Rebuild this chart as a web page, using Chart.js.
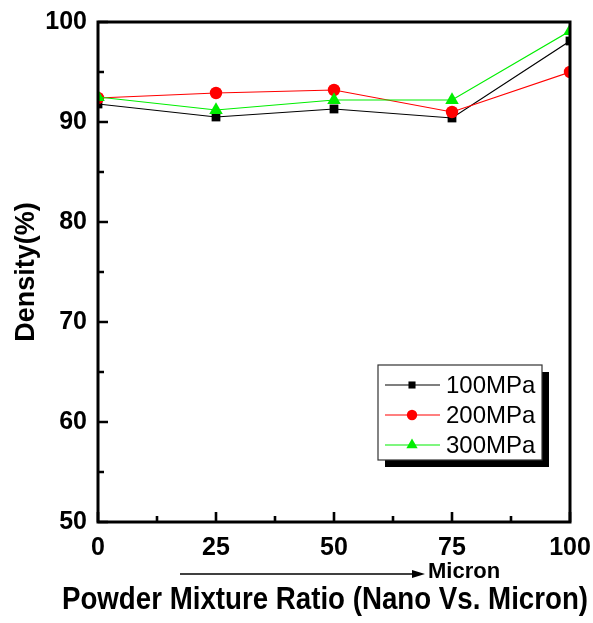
<!DOCTYPE html>
<html>
<head>
<meta charset="utf-8">
<script src="https://cdn.jsdelivr.net/npm/chart.js@4/dist/chart.umd.min.js"></script>
<style>
  html, body { margin: 0; padding: 0; background: #fff; }
  #wrap { width: 593px; height: 623px; }
</style>
</head>
<body>
<div id="wrap"><canvas id="c" width="593" height="623"></canvas></div>
<script>
// Mixture ratio (micron share, %) and sintered density for each compaction pressure
const ratios = [0, 25, 50, 75, 100];
const density100 = [91.8, 90.5, 91.3, 90.4, 98.1];
const density200 = [92.4, 92.9, 93.2, 91.0, 95.0];
const density300 = [92.5, 91.2, 92.2, 92.2, 99.1];
const seriesNames = ['100MPa', '200MPa', '300MPa'];

const xTicks = [0, 25, 50, 75, 100];
const yTicks = [50, 60, 70, 80, 90, 100];
const xMinorTicks = [12.5, 37.5, 62.5, 87.5];
const yMinorTicks = [55, 65, 75, 85, 95];

const xTitle = 'Powder Mixture Ratio (Nano Vs. Micron)';
const yTitle = 'Density(%)';
const arrowLabel = 'Micron';

const FONT = '"Liberation Sans", Arial, Helvetica, sans-serif';

const styles = [
  { color: '#000000', pointStyle: 'rect', radius: 6.2, legendRadius: 5 },
  { color: '#ff0000', pointStyle: 'circle', radius: 6.2, legendRadius: 5.2 },
  { color: '#00ee00', pointStyle: 'triangle', radius: 7.8, legendRadius: 6.5 }
];

const seriesValues = [density100, density200, density300];

const datasets = seriesValues.map((vals, i) => ({
  label: seriesNames[i],
  data: ratios.map((r, k) => ({ x: r, y: vals[k] })),
  borderColor: styles[i].color,
  backgroundColor: styles[i].color,
  pointBackgroundColor: styles[i].color,
  pointBorderColor: styles[i].color,
  pointStyle: styles[i].pointStyle,
  pointRadius: styles[i].radius,
  pointBorderWidth: 0,
  borderWidth: 1.2,
  tension: 0,
  clip: 0,
  order: 3 - i
}));

// Frame, inward tick marks, x title with arrow annotation and the boxed legend
const decorations = {
  id: 'decorations',
  afterDatasetsDraw(chart) {
    const { ctx, chartArea: a, scales } = chart;
    const xs = scales.x, ys = scales.y;
    ctx.save();
    ctx.strokeStyle = '#000';
    ctx.lineWidth = 2.6;
    ctx.lineCap = 'butt';
    ctx.beginPath();
    xTicks.forEach(v => { const px = xs.getPixelForValue(v); ctx.moveTo(px, a.bottom); ctx.lineTo(px, a.bottom - 10); });
    xMinorTicks.forEach(v => { const px = xs.getPixelForValue(v); ctx.moveTo(px, a.bottom); ctx.lineTo(px, a.bottom - 6); });
    yTicks.forEach(v => { const py = ys.getPixelForValue(v); ctx.moveTo(a.left, py); ctx.lineTo(a.left + 10, py); });
    yMinorTicks.forEach(v => { const py = ys.getPixelForValue(v); ctx.moveTo(a.left, py); ctx.lineTo(a.left + 6, py); });
    ctx.stroke();
    ctx.lineWidth = 3;
    ctx.strokeRect(a.left, a.top, a.right - a.left, a.bottom - a.top);
    ctx.restore();
  },
  afterDraw(chart) {
    const { ctx, chartArea: a } = chart;
    ctx.save();
    // x axis title, a little wider than the plot area and slightly tall
    ctx.fillStyle = '#000';
    ctx.save();
    ctx.translate(325, 600);
    ctx.scale(1, 1.12);
    ctx.font = 'bold 27.7px ' + FONT;
    ctx.textAlign = 'center';
    ctx.textBaseline = 'middle';
    ctx.fillText(xTitle, 0, 0);
    ctx.restore();

    // arrow pointing towards the micron-rich side
    const ay = 574;
    const ax0 = 180, ax1 = 425;
    ctx.strokeStyle = '#000';
    ctx.lineWidth = 1.6;
    ctx.beginPath();
    ctx.moveTo(ax0, ay);
    ctx.lineTo(ax1 - 10, ay);
    ctx.stroke();
    ctx.beginPath();
    ctx.moveTo(ax1, ay);
    ctx.lineTo(ax1 - 13, ay - 4);
    ctx.lineTo(ax1 - 13, ay + 4);
    ctx.closePath();
    ctx.fill();
    ctx.font = 'bold 22px ' + FONT;
    ctx.textAlign = 'left';
    ctx.textBaseline = 'middle';
    ctx.fillText(arrowLabel, 428, 572);

    // legend box with drop shadow
    const bx = a.right - 192, by = 365, bw = 164, bh = 95, sh = 7;
    ctx.fillStyle = '#000';
    ctx.fillRect(bx + sh, by + sh, bw, bh);
    ctx.fillStyle = '#fff';
    ctx.fillRect(bx, by, bw, bh);
    ctx.strokeStyle = '#333';
    ctx.lineWidth = 1.2;
    ctx.strokeRect(bx, by, bw, bh);
    ctx.font = '24px ' + FONT;
    seriesNames.forEach((name, i) => {
      const ry = by + 20 + i * 30;
      ctx.strokeStyle = styles[i].color;
      ctx.lineWidth = 1.2;
      ctx.beginPath();
      ctx.moveTo(bx + 7, ry);
      ctx.lineTo(bx + 62, ry);
      ctx.stroke();
      ctx.fillStyle = styles[i].color;
      Chart.helpers.drawPoint(ctx, {
        pointStyle: styles[i].pointStyle,
        radius: styles[i].legendRadius,
        rotation: 0,
        borderWidth: 0
      }, bx + 34, ry);
      ctx.fillStyle = '#000';
      ctx.textAlign = 'left';
      ctx.textBaseline = 'middle';
      ctx.fillText(name, bx + 68, ry + 1);
    });
    ctx.restore();
  }
};

new Chart(document.getElementById('c'), {
  type: 'line',
  data: { datasets },
  options: {
    responsive: false,
    animation: false,
    devicePixelRatio: 1,
    layout: { padding: { top: 22, right: 23, left: 0, bottom: 0 } },
    plugins: { legend: { display: false }, tooltip: { enabled: false } },
    scales: {
      x: {
        type: 'linear',
        min: 0,
        max: 100,
        afterBuildTicks: s => { s.ticks = xTicks.map(v => ({ value: v })); },
        afterFit: s => { s.height = 101; s.paddingLeft = 0; s.paddingRight = 0; },
        grid: { display: false, drawTicks: false },
        border: { display: false },
        ticks: { color: '#000', padding: 11, font: { family: FONT, size: 25, weight: 'bold' } },
        title: { display: false, text: xTitle }
      },
      y: {
        type: 'linear',
        min: 50,
        max: 100,
        afterBuildTicks: s => { s.ticks = yTicks.map(v => ({ value: v })); },
        afterFit: s => { s.width = 98; s.paddingTop = 0; s.paddingBottom = 0; },
        grid: { display: false, drawTicks: false },
        border: { display: false },
        ticks: { color: '#000', padding: 11, font: { family: FONT, size: 25, weight: 'bold' } },
        title: {
          display: true,
          text: yTitle,
          color: '#000',
          font: { family: FONT, size: 27, weight: 'bold' },
          padding: { top: 10, bottom: 0 }
        }
      }
    }
  },
  plugins: [decorations]
});
</script>
</body>
</html>
